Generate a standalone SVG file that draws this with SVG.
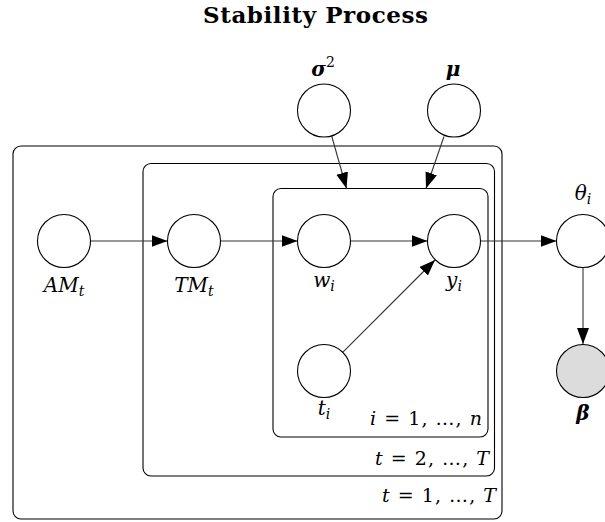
<svg xmlns="http://www.w3.org/2000/svg" width="605" height="522" viewBox="0 0 605 522">
<style>
.node{fill:#fff;stroke:#000;stroke-width:1.1}
.obs{fill:#dcdcdc}
.plate{fill:none;stroke:#000;stroke-width:1.1}
.edge{stroke:#333;stroke-width:1.1;fill:none;marker-end:url(#ah)}
.lbl{font-family:"DejaVu Serif","Liberation Serif",serif;font-size:20px;font-style:italic;text-anchor:middle;fill:#000}
.sub{font-size:14px}
.bold{font-weight:bold}
.up{font-style:normal}
.plbl{font-family:"DejaVu Serif","Liberation Serif",serif;font-size:19px;text-anchor:end;fill:#000}
.title{font-family:"DejaVu Serif",serif;font-weight:bold;font-size:23px;text-anchor:middle;fill:#000}
</style>
<defs>
<marker id="ah" markerUnits="userSpaceOnUse" markerWidth="17" markerHeight="13" refX="16" refY="6" orient="auto"><path d="M0,0 L16,6 L0,12 Z" fill="#000"/></marker>
</defs>
<text class="title" x="315.5" y="23" textLength="225" lengthAdjust="spacing">Stability Process</text>
<g id="plates">
<rect class="plate" x="13" y="146" width="489" height="373" rx="8"/>
<rect class="plate" x="143" y="163.5" width="351.5" height="312.5" rx="8"/>
<rect class="plate" x="273" y="188.5" width="215" height="248.5" rx="8"/>
<text class="plbl" x="482" y="425" textLength="112" lengthAdjust="spacing"><tspan font-style="italic">i</tspan> = 1, …, <tspan font-style="italic">n</tspan></text>
<text class="plbl" x="489" y="465" textLength="114" lengthAdjust="spacing"><tspan font-style="italic">t</tspan> = 2, …, <tspan font-style="italic">T</tspan></text>
<text class="plbl" x="496" y="502" textLength="114" lengthAdjust="spacing"><tspan font-style="italic">t</tspan> = 1, …, <tspan font-style="italic">T</tspan></text>
</g>
<g id="connectors">
<line class="edge" x1="90.5" y1="241" x2="167.5" y2="241"/>
<line class="edge" x1="220.5" y1="241" x2="297.5" y2="241"/>
<line class="edge" x1="350.5" y1="241" x2="427.5" y2="241"/>
<line class="edge" x1="480.5" y1="241" x2="556.5" y2="241"/>
<line class="edge" x1="342.7" y1="352.3" x2="435" y2="260"/>
<line class="edge" x1="583" y1="267.5" x2="583" y2="344"/>
<line class="edge" x1="331.7" y1="136" x2="346.5" y2="188.5"/>
<line class="edge" x1="444" y1="136.5" x2="426" y2="188.5"/>
</g>
<g id="sigma2">
<circle class="node" cx="324" cy="110.5" r="26.5"/>
<text class="lbl" x="323" y="75.5"><tspan class="bold">σ</tspan><tspan class="up sub" dy="-9">2</tspan></text>
</g>
<g id="mu">
<circle class="node" cx="454" cy="110.5" r="26.5"/>
<text class="lbl bold" x="453" y="75.5">μ</text>
</g>
<g id="AM">
<circle class="node" cx="64" cy="241" r="26.5"/>
<text class="lbl" x="64" y="292">AM<tspan class="sub" dy="4">t</tspan></text>
</g>
<g id="TM">
<circle class="node" cx="194" cy="241" r="26.5"/>
<text class="lbl" x="194" y="292">TM<tspan class="sub" dy="4">t</tspan></text>
</g>
<g id="w">
<circle class="node" cx="324" cy="241" r="26.5"/>
<text class="lbl" x="324" y="287">w<tspan class="sub" dy="4">i</tspan></text>
</g>
<g id="y">
<circle class="node" cx="454" cy="241" r="26.5"/>
<text class="lbl" x="454" y="287">y<tspan class="sub" dy="4">i</tspan></text>
</g>
<g id="t">
<circle class="node" cx="324" cy="371" r="26.5"/>
<text class="lbl" x="324" y="415">t<tspan class="sub" dy="4">i</tspan></text>
</g>
<g id="theta">
<circle class="node" cx="583" cy="241" r="26.5"/>
<text class="lbl" x="583" y="200">θ<tspan class="sub" dy="4">i</tspan></text>
</g>
<g id="beta">
<circle class="node obs" cx="583" cy="371" r="26.5"/>
<text class="lbl bold" x="583" y="420">β</text>
</g>
</svg>
